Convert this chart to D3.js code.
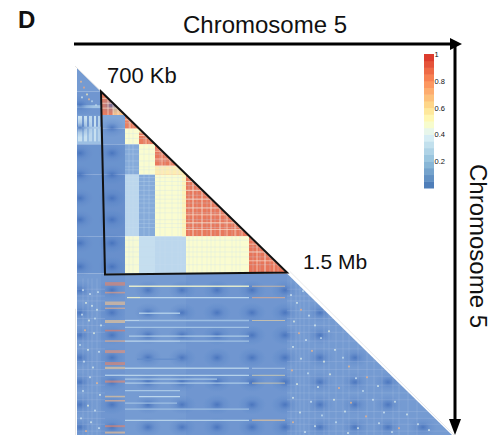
<!DOCTYPE html>
<html>
<head>
<meta charset="utf-8">
<script src="https://cdnjs.cloudflare.com/ajax/libs/d3/7.8.5/d3.min.js"></script>
<style>
  body { margin: 0; background: #fff; }
  svg { display: block; }
  text { font-family: "Liberation Sans", Arial, sans-serif; fill: #111; }
</style>
</head>
<body>
<div id="vis"></div>
<script>
// Domain segments along the chromosome (positions are bins)
const segmentEdges = [0, 24, 48, 62, 78, 109, 172, 210, 375];

// Mean contact value per segment pair, lower triangle only
const blockValues = [
  [0.13],
  [0.12, 0.86],
  [0.13, 0.15, 0.85],
  [0.20, 0.13, 0.49, 0.86],
  [0.11, 0.11, 0.16, 0.49, 0.87],
  [0.11, 0.10, 0.30, 0.16, 0.49, 0.87],
  [0.11, 0.10, 0.48, 0.33, 0.30, 0.49, 0.88],
  [0.13, 0.12, 0.13, 0.13, 0.13, 0.12, 0.12, 0.13]
];

// Smaller patches: col start, col end, row start, row end, value
const patches = [
  [24, 48, 14, 24, 0.12],
  [36, 48, 39, 48, 0.68],
  [78, 109, 100, 109, 0.56],
  [105, 109, 109, 172, 0.54],
  [62, 78, 62, 66, 0.55],
  [1, 5, 49, 75, 0.34],
  [7, 10, 49, 75, 0.34],
  [12, 15, 49, 75, 0.30],
  [17, 19, 49, 75, 0.34],
  [21, 23, 49, 75, 0.28],
  [0, 24, 38, 41, 0.22],
  [0, 24, 60, 62, 0.24]
];

// Fine sub-domain cuts inside the boxed region
const fineCuts = [52, 56, 67, 72, 83, 88, 95, 101, 104, 112, 116, 120, 125, 130, 134, 138, 143, 148, 155, 159, 163, 176, 183, 188, 193, 201];

// Stronger pale cuts inside the red domains: cut, domain start, domain end
const redCuts = [
  [31, 24, 48], [36, 24, 48], [41, 24, 48], [53, 48, 62], [69, 62, 78],
  [85, 78, 109], [93, 78, 109], [100, 78, 109],
  [116, 109, 172], [125, 109, 172], [134, 109, 172], [143, 109, 172], [150, 109, 172], [158, 109, 172], [165, 109, 172],
  [180, 172, 210], [188, 172, 210], [197, 172, 210]
];

// Dark repeating blobs
const blobCols = [3, 35, 71, 105, 140, 175, 208, 243, 278, 311, 346];
const blobRows = [38, 61, 87, 109, 133, 155, 179, 203, 227, 250, 273, 296, 321, 344, 367];

// Light stripes in the lower band: row, col start, col end, value
const lightRows = [
  [223, 52, 172, 0.50], [234.6, 50, 63, 0.50], [234.6, 63, 172, 0.36], [250.6, 62, 103, 0.30],
  [258, 48, 62, 0.34], [258, 62, 172, 0.24], [265, 48, 172, 0.26], [274, 52, 172, 0.30],
  [279, 48, 103, 0.36], [279, 103, 172, 0.26], [297.6, 60, 103, 0.09], [306.8, 48, 172, 0.32],
  [314, 28, 48, 0.34], [314, 48, 172, 0.34], [318, 48, 140, 0.28], [322, 48, 172, 0.30],
  [329.6, 48, 103, 0.28], [335.7, 62, 103, 0.36], [342.5, 48, 100, 0.24], [348.6, 48, 172, 0.24],
  [360, 48, 172, 0.33]
];

// Red stripes: row, col start, col end, value, thickness
const redRows = [
  [220.6, 28, 48, 0.84, 3.6], [229.5, 28, 48, 0.78, 1.6], [240.4, 28, 48, 0.68, 3.5], [245.5, 28, 48, 0.72, 1.4],
  [259, 28, 48, 0.66, 3], [268.3, 28, 48, 0.86, 1.6], [279, 28, 48, 0.72, 1.6], [289.8, 28, 48, 0.80, 3],
  [302, 28, 48, 0.84, 3], [306.5, 28, 48, 0.66, 2.4], [320.4, 28, 48, 0.82, 2.2], [335.7, 28, 48, 0.66, 1.6],
  [340, 28, 48, 0.72, 1.6], [366, 28, 48, 0.84, 2], [372.5, 28, 48, 0.68, 2],
  [223, 175, 208, 0.66, 1], [234.6, 175, 208, 0.72, 1.2], [258, 175, 208, 0.62, 1],
  [306.8, 175, 208, 0.36, 1.2], [314, 175, 208, 0.58, 1], [322, 175, 208, 0.60, 1], [360, 175, 208, 0.66, 1.4]
];

// Faint vertical and horizontal lines of the noisy zones
const noiseCols = [6, 11, 15, 20, 214, 219, 223, 227, 232, 238, 247, 252, 259, 266, 272, 281, 290, 297, 305, 316, 322, 331, 340];
const noiseRows = [226, 233, 238, 248, 256, 263, 270, 279, 287, 300, 308, 315, 324, 332, 339, 351, 358, 364, 371];

// Specks read from the noisy zones: col, row, value
const specks = [
  [4, 14, 0.70], [7, 20, 0.75], [10, 27, 0.55], [12, 32, 0.70], [5, 30, 0.40], [15, 34, 0.32], [19, 38, 0.32],
  [6, 227, 0.40], [13, 231, 0.40], [21, 229, 0.36], [9, 240, 0.45], [15, 243, 0.42], [20, 247, 0.42],
  [5, 252, 0.40], [12, 258, 0.45], [18, 256, 0.36], [24, 263, 0.42], [8, 268, 0.70], [17, 271, 0.45],
  [3, 283, 0.36], [11, 288, 0.42], [22, 290, 0.40], [7, 300, 0.40], [16, 306, 0.42], [13, 316, 0.40],
  [20, 322, 0.70], [6, 330, 0.36], [23, 334, 0.42], [11, 345, 0.45], [18, 350, 0.40], [4, 358, 0.40],
  [14, 362, 0.42], [22, 368, 0.40], [9, 371, 0.72],
  [214, 232, 0.40], [220, 240, 0.42], [226, 228, 0.36], [224, 247, 0.72], [232, 253, 0.40], [217, 259, 0.45],
  [238, 263, 0.42], [222, 271, 0.72], [229, 278, 0.40], [244, 276, 0.36], [252, 269, 0.45], [216, 285, 0.42],
  [235, 289, 0.70], [258, 288, 0.42], [224, 297, 0.42], [247, 300, 0.45], [266, 296, 0.36], [272, 305, 0.70],
  [215, 309, 0.70], [231, 312, 0.36], [253, 313, 0.45], [279, 317, 0.40], [290, 316, 0.72], [220, 323, 0.45],
  [241, 326, 0.42], [262, 327, 0.72], [286, 330, 0.36], [301, 325, 0.42], [216, 337, 0.42], [234, 341, 0.40],
  [257, 339, 0.45], [274, 342, 0.70], [296, 339, 0.40], [318, 341, 0.42], [223, 352, 0.42], [245, 355, 0.36],
  [268, 351, 0.42], [289, 356, 0.72], [307, 352, 0.40], [330, 354, 0.42], [216, 362, 0.70], [238, 366, 0.42],
  [259, 362, 0.36], [281, 368, 0.42], [302, 363, 0.40], [322, 368, 0.72], [341, 364, 0.40], [228, 372, 0.40],
  [271, 373, 0.42], [315, 372, 0.36], [352, 370, 0.42]
];

// Colour bar
const legendTicks = [1, 0.8, 0.6, 0.4, 0.2];
const legendLevels = d3.range(0, 1, 0.05);
const colorStops = [0, 0.2, 0.4, 0.5, 0.6, 0.8, 1];
const colorValues = ['#4575b4', '#91bfdb', '#e0f3f8', '#ffffbf', '#fee090', '#fc8d59', '#d73027'];

// The heatmap reads a bit bluer and softer than the bar
const heatStops = [0, 0.12, 0.2, 0.4, 0.5, 0.6, 0.8, 1];
const heatValues = ['#3f6cb8', '#6f96d0', '#9cbfe3', '#dbeef6', '#fdfdcc', '#fde3a0', '#f0936f', '#d9473a'];

// The boxed region, in bins: top, bottom left, bottom right
const boxCorners = [[24, 24], [28, 211], [210, 209]];
const diagonalEnds = [0, 375];

const width = 495, height = 438;

const xScale = d3.scaleLinear().domain([0, 375]).range([77, 452]);
const yScale = d3.scaleLinear().domain([0, 375]).range([68, 435]);
const colorScale = d3.scaleLinear().domain(colorStops).range(colorValues);
const heatScale = d3.scaleLinear().domain(heatStops).range(heatValues);
const legendScale = d3.scaleLinear().domain([0, 1]).range([188, 54]);

const svg = d3.select('#vis').append('svg')
  .attr('width', width)
  .attr('height', height);

const defs = svg.append('defs');

defs.append('clipPath').attr('id', 'tri')
  .append('path')
  .attr('d', `M${xScale(0)},${yScale(0)}L${xScale(375)},${yScale(375)}L${xScale(0)},${yScale(375)}Z`);

defs.append('filter').attr('id', 'soft')
  .attr('x', 0).attr('y', 0).attr('width', 1).attr('height', 1)
  .append('feGaussianBlur').attr('stdDeviation', 0.7);

const blobGrad = defs.append('radialGradient').attr('id', 'blob');
blobGrad.append('stop').attr('offset', '0%').attr('stop-color', '#3a67b6').attr('stop-opacity', 0.7);
blobGrad.append('stop').attr('offset', '50%').attr('stop-color', '#4a76c0').attr('stop-opacity', 0.22);
blobGrad.append('stop').attr('offset', '100%').attr('stop-color', '#5580c4').attr('stop-opacity', 0);

const heat = svg.append('g')
  .attr('clip-path', 'url(#tri)')
  .append('g')
  .attr('filter', 'url(#soft)');

function addBlock(col0, col1, row0, row1, v) {
  heat.append('rect')
    .attr('x', xScale(col0))
    .attr('y', yScale(row0))
    .attr('width', xScale(col1) - xScale(col0))
    .attr('height', yScale(row1) - yScale(row0))
    .attr('fill', heatScale(v));
}

// Blocks
blockValues.forEach((row, i) => {
  row.forEach((v, j) => {
    addBlock(segmentEdges[j], segmentEdges[j + 1], segmentEdges[i], segmentEdges[i + 1], v);
  });
});
patches.forEach(p => addBlock(p[0], p[1], p[2], p[3], p[4]));

// Blobs sit only on the blue parts
const blobData = d3.cross(blobCols, blobRows)
  .filter(([c, r]) => c < r && (r > 215 || c < 48));

heat.selectAll('.blob')
  .data(blobData)
  .join('ellipse')
  .attr('class', 'blob')
  .attr('cx', d => xScale(d[0]))
  .attr('cy', d => yScale(d[1]))
  .attr('rx', 14)
  .attr('ry', 10)
  .attr('fill', 'url(#blob)');

// Sub-domain grid in the boxed region
fineCuts.forEach(c => {
  heat.append('line')
    .attr('x1', xScale(c)).attr('x2', xScale(c))
    .attr('y1', yScale(c)).attr('y2', yScale(210))
    .attr('stroke', '#c9dcec').attr('stroke-opacity', 0.3).attr('stroke-width', 0.9);
  heat.append('line')
    .attr('x1', xScale(48)).attr('x2', xScale(c))
    .attr('y1', yScale(c)).attr('y2', yScale(c))
    .attr('stroke', '#c9dcec').attr('stroke-opacity', 0.3).attr('stroke-width', 0.9);
});

// Pale grid on the red domains only
redCuts.forEach(d => {
  heat.append('line')
    .attr('x1', xScale(d[0])).attr('x2', xScale(d[0]))
    .attr('y1', yScale(d[0])).attr('y2', yScale(d[2]))
    .attr('stroke', '#fbe3d2').attr('stroke-opacity', 0.65).attr('stroke-width', 1);
  heat.append('line')
    .attr('x1', xScale(d[1])).attr('x2', xScale(d[0]))
    .attr('y1', yScale(d[0])).attr('y2', yScale(d[0]))
    .attr('stroke', '#fbe3d2').attr('stroke-opacity', 0.65).attr('stroke-width', 1);
});

// Noise lines
noiseCols.forEach(c => {
  heat.append('line')
    .attr('x1', xScale(c)).attr('x2', xScale(c))
    .attr('y1', yScale(215)).attr('y2', yScale(375))
    .attr('stroke', '#b4c9ea').attr('stroke-opacity', 0.28).attr('stroke-width', 0.8);
});
noiseRows.forEach(r => {
  [[0, 28], [210, 375]].forEach(span => {
    heat.append('line')
      .attr('x1', xScale(span[0])).attr('x2', xScale(span[1]))
      .attr('y1', yScale(r)).attr('y2', yScale(r))
      .attr('stroke', '#b4c9ea').attr('stroke-opacity', 0.28).attr('stroke-width', 0.8);
  });
});

// Stripes
heat.selectAll('.light-row')
  .data(lightRows)
  .join('line')
  .attr('class', 'light-row')
  .attr('x1', d => xScale(d[1]))
  .attr('x2', d => xScale(d[2]))
  .attr('y1', d => yScale(d[0]))
  .attr('y2', d => yScale(d[0]))
  .attr('stroke', d => heatScale(d[3]))
  .attr('stroke-opacity', 0.8)
  .attr('stroke-width', 1.3);

heat.selectAll('.red-row')
  .data(redRows)
  .join('line')
  .attr('class', 'red-row')
  .attr('x1', d => xScale(d[1]))
  .attr('x2', d => xScale(d[2]))
  .attr('y1', d => yScale(d[0]))
  .attr('y2', d => yScale(d[0]))
  .attr('stroke', d => heatScale(d[3]))
  .attr('stroke-opacity', 0.6)
  .attr('stroke-width', d => d[4]);

heat.selectAll('.speck')
  .data(specks)
  .join('rect')
  .attr('class', 'speck')
  .attr('x', d => xScale(d[0]) - 0.9)
  .attr('y', d => yScale(d[1]) - 0.9)
  .attr('width', 1.8)
  .attr('height', 1.8)
  .attr('fill', d => heatScale(d[2]))
  .attr('fill-opacity', 0.75);

// Faint edge along the diagonal
svg.append('line')
  .attr('x1', xScale(diagonalEnds[0]) - 2).attr('y1', yScale(diagonalEnds[0]) - 2)
  .attr('x2', xScale(24)).attr('y2', yScale(24))
  .attr('stroke', '#dddddd').attr('stroke-width', 0.8);

svg.append('line')
  .attr('x1', xScale(213)).attr('y1', yScale(208))
  .attr('x2', xScale(diagonalEnds[1]) + 2).attr('y2', yScale(diagonalEnds[1]))
  .attr('stroke', '#e4e4e4').attr('stroke-width', 0.8);

// Pale strip left of the lower triangle
svg.append('line')
  .attr('x1', 75.5).attr('x2', 75.5)
  .attr('y1', yScale(246)).attr('y2', yScale(375))
  .attr('stroke', '#e6e6e6').attr('stroke-width', 1);

// Boxed region
svg.append('path')
  .attr('d', d3.line().x(d => xScale(d[0])).y(d => yScale(d[1])).curve(d3.curveLinearClosed)(boxCorners))
  .attr('fill', 'none')
  .attr('stroke', '#111')
  .attr('stroke-width', 2);

// Chromosome arrows
svg.append('line')
  .attr('x1', 74).attr('x2', 454).attr('y1', 44).attr('y2', 44)
  .attr('stroke', '#000').attr('stroke-width', 3);
svg.append('path').attr('d', 'M450,38L462,44L450,50Z').attr('fill', '#000');

svg.append('line')
  .attr('x1', 455).attr('x2', 455).attr('y1', 44).attr('y2', 426)
  .attr('stroke', '#000').attr('stroke-width', 3);
svg.append('path').attr('d', 'M449,419L455,435L461,419Z').attr('fill', '#000');

// Labels
svg.append('text').attr('x', 18).attr('y', 28)
  .attr('font-size', 24).attr('font-weight', 'bold').text('D');
svg.append('text').attr('x', 265).attr('y', 33)
  .attr('font-size', 24).attr('text-anchor', 'middle').text('Chromosome 5');
svg.append('text').attr('transform', 'translate(470,246) rotate(90)')
  .attr('font-size', 24).attr('text-anchor', 'middle').text('Chromosome 5');
svg.append('text').attr('x', 107).attr('y', 83)
  .attr('font-size', 22).text('700 Kb');
svg.append('text').attr('x', 303).attr('y', 269)
  .attr('font-size', 21).text('1.5 Mb');

// Colour bar
const legend = svg.append('g').attr('class', 'legend');

legend.selectAll('rect')
  .data(legendLevels)
  .join('rect')
  .attr('x', 424)
  .attr('width', 10)
  .attr('y', d => legendScale(d + 0.05))
  .attr('height', d => legendScale(d) - legendScale(d + 0.05) + 0.5)
  .attr('fill', d => colorScale(d + 0.025));

legend.selectAll('text')
  .data(legendTicks)
  .join('text')
  .attr('x', 434.5)
  .attr('y', d => legendScale(d) + 3)
  .attr('font-size', 7.5)
  .text(d => d);
</script>
</body>
</html>
